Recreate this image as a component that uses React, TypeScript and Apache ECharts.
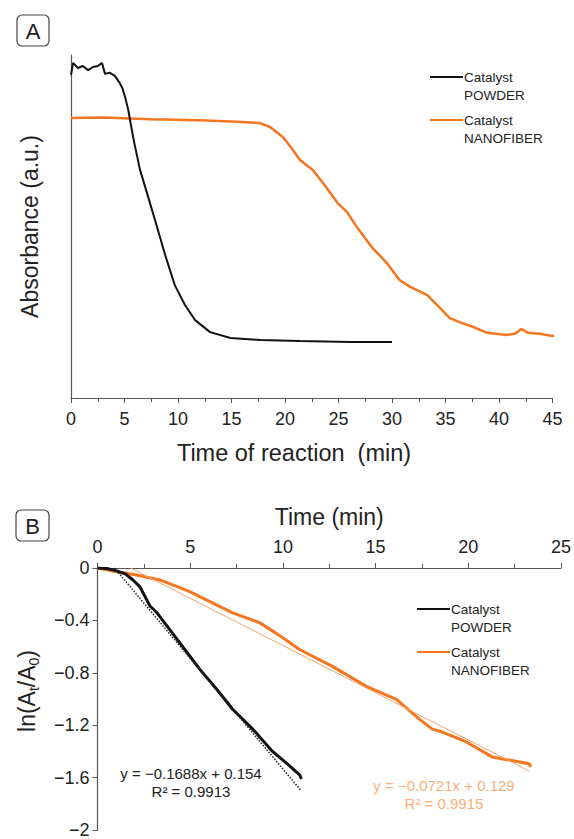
import React, { useEffect, useRef } from "react";
import * as echarts from "echarts";

// Panel A: absorbance vs time of reaction (arbitrary units, 0..1)
const powderA_t = [0, 0.19, 0.65, 1.1, 1.6, 2.05, 2.5, 2.9, 3.18, 3.64, 4.1, 4.5, 4.8, 5.05, 5.35, 5.6, 5.9, 6.45, 7.1, 7.85, 8.8, 9.7, 10.65, 11.6, 13, 14.9, 17.7, 21.4, 26.1, 30];
const powderA_v = [0.942, 0.977, 0.962, 0.968, 0.956, 0.965, 0.968, 0.977, 0.945, 0.948, 0.939, 0.921, 0.904, 0.878, 0.84, 0.796, 0.746, 0.665, 0.598, 0.519, 0.417, 0.329, 0.271, 0.227, 0.192, 0.175, 0.169, 0.166, 0.163, 0.163];
const nanoA_t = [0, 3, 7.4, 12, 15, 17.6, 18.6, 19.8, 20.6, 21.4, 22.6, 23.7, 24.9, 25.8, 26.7, 28.1, 29.5, 30.7, 31.7, 33.3, 34.5, 35.4, 36.5, 37.6, 38.9, 40.7, 41.5, 42.1, 42.7, 43.8, 45, 45.4];
const nanoA_v = [0.816, 0.818, 0.813, 0.81, 0.806, 0.802, 0.79, 0.761, 0.729, 0.694, 0.665, 0.621, 0.569, 0.542, 0.499, 0.44, 0.394, 0.344, 0.324, 0.3, 0.262, 0.233, 0.219, 0.207, 0.19, 0.184, 0.187, 0.201, 0.19, 0.187, 0.181, 0.183];

// Panel B: ln(At/A0) vs time
const powderB_t = [0, 0.5, 1.0, 1.5, 1.9, 2.29, 2.83, 3.2, 4.43, 5.52, 6.43, 7.29, 8.37, 9.44, 10.36, 10.9, 11.0];
const powderB_v = [0, -0.004, -0.02, -0.045, -0.09, -0.144, -0.29, -0.34, -0.569, -0.774, -0.926, -1.078, -1.23, -1.4, -1.51, -1.58, -1.61];
const nanoB_t = [0, 1.03, 2.11, 3.36, 4.06, 4.98, 5.52, 7.29, 8.74, 9.98, 10.9, 12.67, 14.5, 16.12, 17.36, 18.06, 18.6, 19.9, 21.28, 23.28, 23.38];
const nanoB_v = [0, -0.028, -0.053, -0.091, -0.129, -0.18, -0.218, -0.342, -0.417, -0.531, -0.622, -0.751, -0.903, -1.002, -1.154, -1.23, -1.252, -1.328, -1.442, -1.495, -1.518];

// Linear fits
const powderFit = { slope: -0.1688, intercept: 0.154, r2: 0.9913, t: [0.91, 11.0] };
const nanoFit = { slope: -0.0721, intercept: 0.129, r2: 0.9915, t: [1.79, 23.3] };

const xTicksA = { min: 0, max: 45, interval: 5 };
const xTicksB = { min: 0, max: 25, interval: 5 };
const yTicksB = { min: -2, max: 0, interval: 0.4 };

const BLACK = "#111111";
const ORANGE = "#f5761f";
const FONT = "Liberation Sans, Arial, sans-serif";

const zip = (t: number[], v: number[]) => t.map((x, i) => [x, v[i]]);
const fitLine = (f: { slope: number; intercept: number; t: number[] }) =>
  f.t.map((x) => [x, f.slope * x + f.intercept]);

export default function App() {
  const ref = useRef<HTMLDivElement>(null);
  useEffect(() => {
    if (!ref.current) return;
    const chart = echarts.init(ref.current, undefined, { renderer: "svg" });
    const axisLine = { show: true, lineStyle: { color: "#555", width: 1.2 } };
    const label = { color: "#222", fontSize: 18, fontFamily: FONT };
    const legend = (x: number, y: number) => [
      { type: "line", shape: { x1: x, y1: y, x2: x + 33, y2: y }, style: { stroke: BLACK, lineWidth: 2 } },
      { type: "text", x: x + 34, y: y - 9, style: { text: "Catalyst\nPOWDER", fill: "#222", font: `13.5px ${FONT}`, lineHeight: 18 } },
      { type: "line", shape: { x1: x, y1: y + 43, x2: x + 33, y2: y + 43 }, style: { stroke: ORANGE, lineWidth: 2 } },
      { type: "text", x: x + 34, y: y + 34, style: { text: "Catalyst\nNANOFIBER", fill: "#222", font: `13.5px ${FONT}`, lineHeight: 18 } },
    ];
    const fmt = (v: number) => (v === 0 ? "0" : v === -2 ? "\u22122" : "\u2212" + Math.abs(v).toFixed(1));
    chart.setOption({
      animation: false,
      backgroundColor: "#fff",
      grid: [
        { left: 71, top: 55, right: 21.5, height: 343 },
        { left: 97.5, top: 568, right: 12, height: 263.5 },
      ],
      xAxis: [
        {
          gridIndex: 0, type: "value", ...xTicksA,
          axisLine, axisTick: { show: true, length: 5, lineStyle: { color: "#555" } },
          minorTick: { show: true, splitNumber: 2, length: 4, lineStyle: { color: "#555" } },
          splitLine: { show: false },
          axisLabel: { ...label, margin: 12 },
        },
        {
          gridIndex: 1, type: "value", position: "top", ...xTicksB,
          axisLine, axisTick: { show: true, length: 5, lineStyle: { color: "#555" } },
          minorTick: { show: true, splitNumber: 2, length: 4, lineStyle: { color: "#555" } },
          splitLine: { show: false },
          axisLabel: { ...label, margin: 12 },
          name: "Time (min)", nameLocation: "middle", nameGap: 40,
          nameTextStyle: { fontSize: 23, color: "#222", fontFamily: FONT },
        },
      ],
      yAxis: [
        {
          gridIndex: 0, type: "value", min: 0, max: 1,
          axisLine, axisTick: { show: false }, axisLabel: { show: false }, splitLine: { show: false },
          name: "Absorbance (a.u.)", nameLocation: "middle", nameGap: 30, nameRotate: 90,
          nameTextStyle: { fontSize: 23, color: "#222", fontFamily: FONT },
        },
        {
          gridIndex: 1, type: "value", ...yTicksB,
          axisLine, axisTick: { show: true, length: 5, lineStyle: { color: "#555" } },
          splitLine: { show: false },
          axisLabel: { ...label, margin: 8, formatter: fmt },
        },
      ],
      series: [
        { type: "line", name: "Catalyst POWDER", xAxisIndex: 0, yAxisIndex: 0, data: zip(powderA_t, powderA_v), showSymbol: false, lineStyle: { color: BLACK, width: 2 }, z: 3 },
        { type: "line", name: "Catalyst NANOFIBER", xAxisIndex: 0, yAxisIndex: 0, data: zip(nanoA_t, nanoA_v), showSymbol: false, clip: false, lineStyle: { color: ORANGE, width: 2.5 }, z: 2 },
        { type: "line", name: "Catalyst NANOFIBER", xAxisIndex: 1, yAxisIndex: 1, data: zip(nanoB_t, nanoB_v), showSymbol: false, lineStyle: { color: ORANGE, width: 3 }, z: 2 },
        { type: "line", name: "fit nano", xAxisIndex: 1, yAxisIndex: 1, data: fitLine(nanoFit), showSymbol: false, lineStyle: { color: "#f7a56a", width: 1 }, z: 4 },
        { type: "line", name: "Catalyst POWDER", xAxisIndex: 1, yAxisIndex: 1, data: zip(powderB_t, powderB_v), showSymbol: false, lineStyle: { color: BLACK, width: 3 }, z: 3 },
        { type: "line", name: "fit powder", xAxisIndex: 1, yAxisIndex: 1, data: fitLine(powderFit), showSymbol: false, lineStyle: { color: "#222", width: 1.5, type: "dotted" }, z: 5 },
      ],
      graphic: [
        { type: "rect", shape: { x: 17, y: 15, width: 32, height: 31, r: 5 }, style: { fill: "none", stroke: "#444", lineWidth: 1.2 } },
        { type: "text", x: 33, y: 31, style: { text: "A", fill: "#222", font: `22px ${FONT}`, align: "center", verticalAlign: "middle" } },
        { type: "rect", shape: { x: 16, y: 510, width: 33, height: 31, r: 5 }, style: { fill: "none", stroke: "#444", lineWidth: 1.2 } },
        { type: "text", x: 32.5, y: 526, style: { text: "B", fill: "#222", font: `22px ${FONT}`, align: "center", verticalAlign: "middle" } },
        { type: "text", x: 294, y: 453, style: { text: "Time of reaction  (min)", fill: "#222", font: `23.5px ${FONT}`, align: "center", verticalAlign: "middle" } },
        {
          type: "text", x: 27, y: 691, rotation: Math.PI / 2,
          style: {
            text: "{a|ln(A}{s|t}{a|/A}{s|0}{a|)}", align: "center", verticalAlign: "middle", fill: "#222",
            rich: {
              a: { font: `23px ${FONT}`, lineHeight: 28, verticalAlign: "middle", fill: "#222" },
              s: { font: `14px ${FONT}`, lineHeight: 14, verticalAlign: "bottom", fill: "#222" },
            },
          },
        },
        ...legend(430, 77),
        ...legend(417, 609),
        { type: "text", x: 191, y: 773, style: { text: "y = \u22120.1688x + 0.154", fill: "#222", font: `15px ${FONT}`, align: "center", verticalAlign: "middle" } },
        { type: "text", x: 191, y: 791, style: { text: "R\u00b2 = 0.9913", fill: "#222", font: `15px ${FONT}`, align: "center", verticalAlign: "middle" } },
        { type: "text", x: 444, y: 785, style: { text: "y = \u22120.0721x + 0.129", fill: "#f7b07a", font: `15px ${FONT}`, align: "center", verticalAlign: "middle" } },
        { type: "text", x: 444, y: 803, style: { text: "R\u00b2 = 0.9915", fill: "#f7b07a", font: `15px ${FONT}`, align: "center", verticalAlign: "middle" } },
      ],
    });
    return () => chart.dispose();
  }, []);
  return <div ref={ref} style={{ position: "fixed", left: 0, top: 0, width: 574, height: 839 }} />;
}
